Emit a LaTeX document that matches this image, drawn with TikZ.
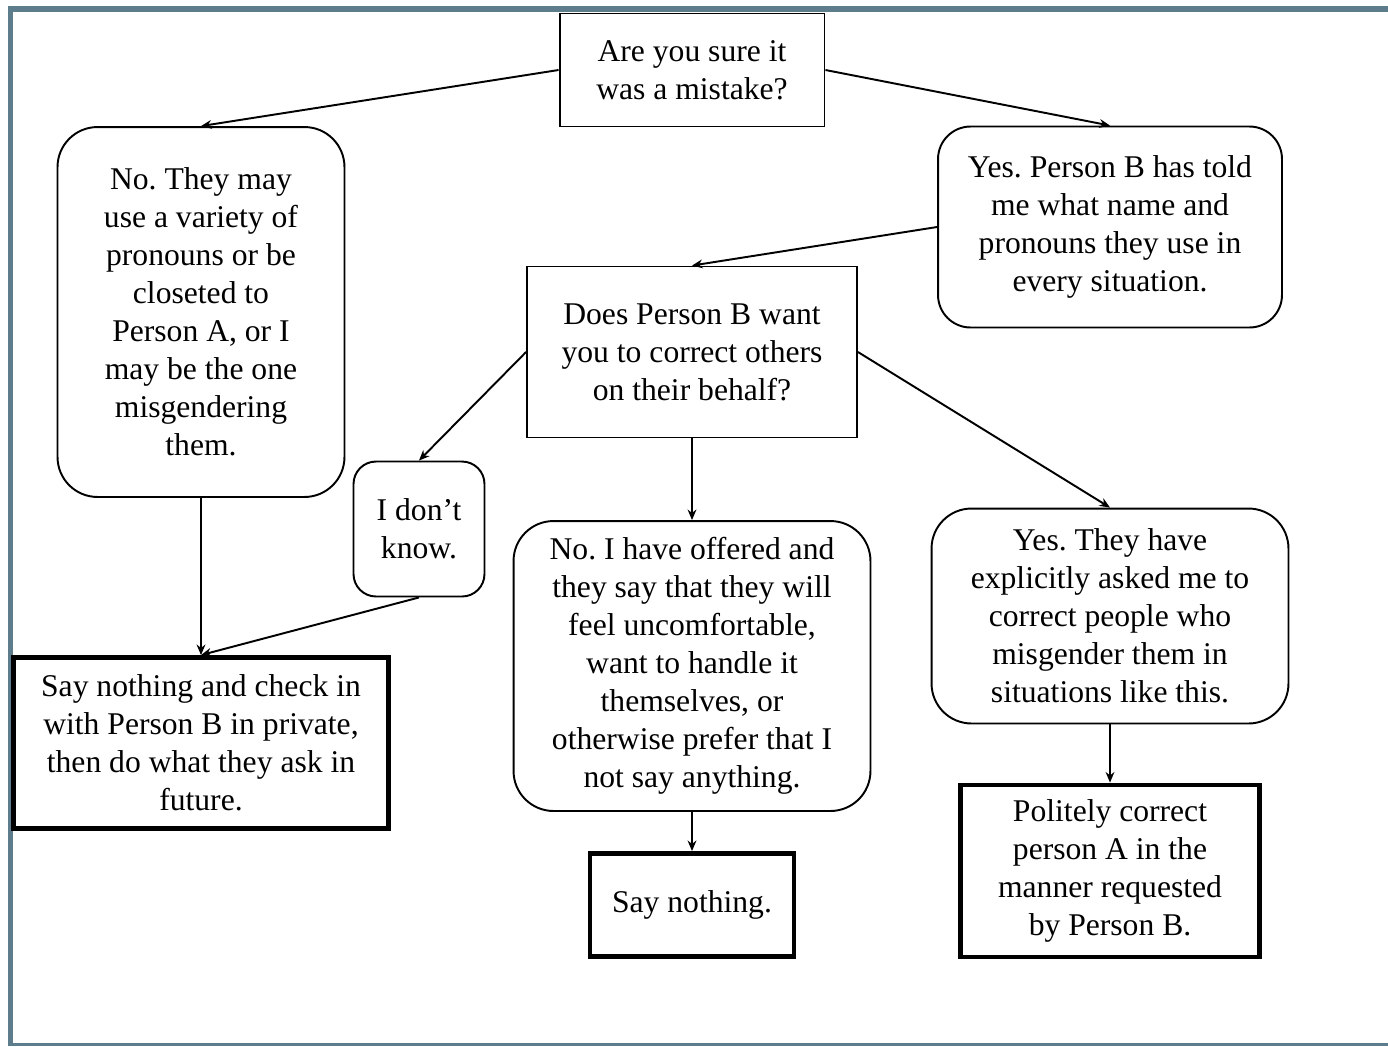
\documentclass[tikz,border=0pt]{standalone}
\usepackage{fontspec}
\setmainfont{Liberation Serif}
\usepackage{tikz}
\usetikzlibrary{shapes,arrows,arrows.meta,positioning,fit}
\frenchspacing

\begin{document}
\begin{tikzpicture}[x=0.02cm, y=-0.02cm]
				\tikzstyle{Box}		= [draw, line width=1.1pt, fill=white, align=center, inner sep=2pt,
									   font=\fontsize{18}{21.6}\selectfont]
				\tikzstyle{Plain}	= [rectangle]
				\tikzstyle{Round}	= [rectangle, rounded corners=0.8cm]
				\tikzstyle{Small}	= [rectangle, rounded corners=0.45cm]
				\tikzstyle{Final}	= [line width=2.8pt]
				\tikzstyle{Link}	= [line width=1.1pt, -{Stealth[length=6pt, width=5pt]}]
				\definecolor{framecol}{RGB}{94,125,140}

				% frame
				\useasboundingbox (0,0) rectangle (1388,1046);
				\fill [framecol] (8,6) rectangle (1388,12);
				\fill [framecol] (8,6) rectangle (13,1046);
				\fill [framecol] (8,1043) rectangle (1388,1046);

				\node (sure) at (692, 70) [Box][Plain][minimum width=5.3cm, minimum height=2.26cm]
					{Are you sure it\\was a mistake?};

				\node (no) at (201, 312) [Box][Round][minimum width=5.74cm, minimum height=7.4cm]
					{No. They may\\use a variety of\\pronouns or be\\closeted to\\Person A, or I\\may be the one\\misgendering\\them.};

				\node (yes) at (1110, 227) [Box][Round][rounded corners=0.65cm, minimum width=6.88cm, minimum height=4.02cm]
					{Yes. Person B has told\\me what name and\\pronouns they use in\\every situation.};

				\node (want) at (692, 352) [Box][Plain][minimum width=6.6cm, minimum height=3.42cm]
					{Does Person B want\\you to correct others\\on their behalf?};

				\node (idk) at (419, 529) [Box][Small][minimum width=2.62cm, minimum height=2.7cm]
					{I don’t\\know.};

				\node (offered) at (692, 666) [Box][Round][minimum width=7.14cm, minimum height=5.8cm]
					{No. I have offered and\\they say that they will\\feel uncomfortable,\\want to handle it\\themselves, or\\otherwise prefer that I\\not say anything.};

				\node (asked) at (1110, 616) [Box][Round][minimum width=7.14cm, minimum height=4.3cm]
					{Yes. They have\\explicitly asked me to\\correct people who\\misgender them in\\situations like this.};

				\node (check) at (201, 743) [Box][Plain][Final][minimum width=7.5cm, minimum height=3.42cm]
					{Say nothing and check in\\with Person B in private,\\then do what they ask in\\future.};

				\node (nothing) at (692, 905) [Box][Plain][Final][minimum width=4.08cm, minimum height=2.06cm]
					{Say nothing.};

				\node (correct) at (1110, 871) [Box][Plain][Final][minimum width=5.98cm, minimum height=3.44cm]
					{Politely correct\\person A in the\\manner requested\\by Person B.};

				\draw (sure.west) to (no.north) [Link];
				\draw (sure.east) to (yes.north) [Link];
				\draw (yes.west) to (want.north) [Link];
				\draw (want.west) to (idk.north) [Link];
				\draw (want.south) to (offered.north) [Link];
				\draw (want.east) to (asked.north) [Link];
				\draw (no.south) to (check.north) [Link];
				\draw (idk.south) to (check.north) [Link];
				\draw (offered.south) to (nothing.north) [Link];
				\draw (asked.south) to (correct.north) [Link];
			\end{tikzpicture}
\end{document}
